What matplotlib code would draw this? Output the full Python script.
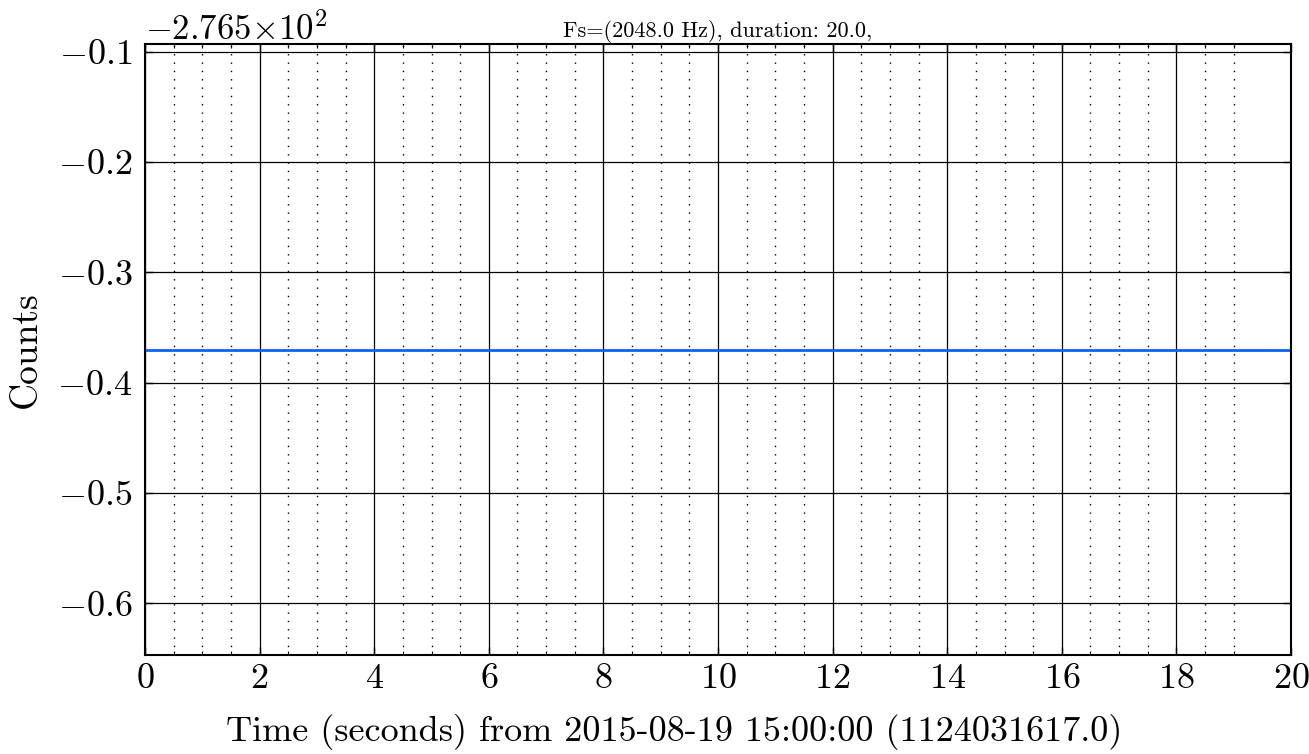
import numpy as np
import matplotlib
matplotlib.use('Agg')
import matplotlib.pyplot as plt
import matplotlib.ticker

# data: constant channel value over the 20 s window
t = [0.0, 20.0]
counts = [-276.87, -276.87]
y_offset = -276.5
minor_x = [0.5, 1.0, 1.5, 2.5, 3.0, 3.5, 4.5, 5.0, 5.5, 6.5, 7.0, 7.5,
           8.5, 9.0, 9.5, 10.5, 11.0, 11.5, 12.5, 13.0, 13.5, 14.5, 15.0,
           15.5, 16.5, 17.0, 17.5, 18.5, 19.0]
title = "Fs=(2048.0 Hz), duration: 20.0,"
xlabel = "Time (seconds) from 2015-08-19 15:00:00 (1124031617.0)"
ylabel = "Counts"


class TightOffsetFormatter(matplotlib.ticker.ScalarFormatter):
    # offset drawn as  -2.765x10^2  without the spaces around the times sign
    def get_offset(self):
        if not self.offset:
            return ''
        exp = int(np.floor(np.log10(abs(self.offset))))
        mant = self.offset / 10.0**exp
        return r'$%s{\times}10^{%d}$' % ('%g' % mant, exp)


plt.rcParams.update({
    'font.family': 'serif',
    'font.serif': ['cmr10'],
    'mathtext.fontset': 'cm',
    'axes.formatter.use_mathtext': True,
    'axes.unicode_minus': True,
})

fig = plt.figure(figsize=(13.09, 7.54), dpi=100)
ax = fig.add_axes([145/1309, 1-655/754, (1291-145)/1309, (655-44)/754])

ax.plot(t, counts, color='#0a64f0', lw=2)
ax.set_xlim(0, 20)
# singular range padded like matplotlib does (0.1% of the value)
pad = 0.001 * abs(counts[0])
ax.set_ylim(counts[0] - pad, counts[0] + pad)

ax.xaxis.set_major_locator(matplotlib.ticker.MultipleLocator(2))
ax.xaxis.set_minor_locator(matplotlib.ticker.FixedLocator(minor_x))
ax.yaxis.set_major_locator(matplotlib.ticker.MultipleLocator(0.1))
fmt = TightOffsetFormatter(useOffset=y_offset, useMathText=True)
ax.yaxis.set_major_formatter(fmt)

ax.grid(True, which='major', color='black', linestyle='-', linewidth=0.9)
ax.grid(True, which='minor', axis='x', color='black',
        linestyle=(0, (1, 5)), linewidth=1.0)

ax.tick_params(axis='both', which='both', direction='in', top=True, right=True)
ax.tick_params(axis='x', which='major', labelsize=26, length=6, width=1, pad=6)
ax.tick_params(axis='y', which='major', labelsize=26, length=6, width=1, pad=9)
ax.tick_params(axis='both', which='minor', length=3, width=0.8)
ax.yaxis.get_offset_text().set_fontsize(25)

for s in ax.spines.values():
    s.set_linewidth(1.5)

ax.set_title(title, fontsize=16, pad=5)
ax.set_xlabel(xlabel, fontsize=26)
ax.set_ylabel(ylabel, fontsize=27)
ax.xaxis.set_label_coords(0.4616, -0.097)
ax.yaxis.set_label_coords(-0.089, 0.5)

fig.savefig('out.png', dpi=100)
